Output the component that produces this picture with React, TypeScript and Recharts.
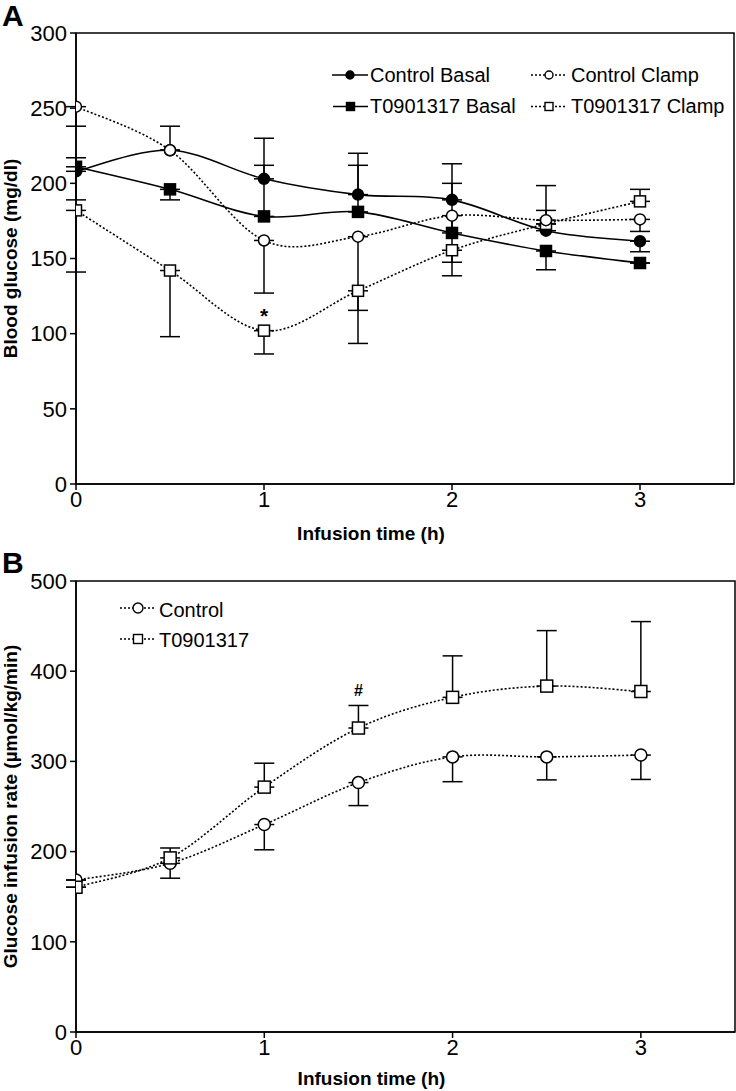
import React from 'react';
import { LineChart, Line, XAxis, YAxis, ErrorBar, ReferenceArea, ReferenceDot } from 'recharts';

const FONT = '"Liberation Sans", Arial, Helvetica, sans-serif';

// ---------- Panel A: Blood glucose (mg/dl) ----------
const timesA = [0, 0.5, 1, 1.5, 2, 2.5, 3];
const controlBasal = [208, 222, 203, 192.5, 189, 168.5, 161.5];
const t09Basal = [211, 196, 178, 181, 167, 155, 147];
const controlClamp = [251, 222, 162, 164.5, 178.5, 175.5, 176];
const t09Clamp = [182, 142, 102, 128.5, 155.5, 173, 188];
// error bars as [below, above]
const controlBasalErr = [[0, 9], [0, 16], [0, 27], [0, 27.5], [0, 24], [0, 30], [7, 0]];
const t09BasalErr = [[22, 0], [7, 0], [0, 34], [0, 31], [0, 33], [12.5, 0], [0, 0]];
const controlClampErr = [[13, 0], [0, 0], [35, 0], [49, 0], [31, 0], [0, 6.5], [8, 0]];
const t09ClampErr = [[41, 0], [44, 0], [15.5, 0], [35, 0], [17, 0], [0, 0], [0, 8]];
const xTicks = [0, 1, 2, 3];
const yTicksA = [0, 50, 100, 150, 200, 250, 300];

// ---------- Panel B: Glucose infusion rate ----------
const timesB = [0, 0.5, 1, 1.5, 2, 2.5, 3];
const controlGIR = [168.5, 187, 230, 276.5, 305, 305, 307];
const t09GIR = [160.5, 193, 271.5, 337, 371, 383.5, 377.5];
const controlGIRErr = [[0, 0], [16.5, 0], [28, 0], [25.5, 0], [27.5, 0], [25.5, 0], [27, 0]];
const t09GIRErr = [[0, 0], [0, 11], [0, 26.5], [0, 25], [0, 46], [0, 61.5], [0, 77.5]];
const yTicksB = [0, 100, 200, 300, 400, 500];

const dataA = timesA.map((t, i) => ({
  t,
  cb: controlBasal[i], cbE: controlBasalErr[i],
  tb: t09Basal[i], tbE: t09BasalErr[i],
  cc: controlClamp[i], ccE: controlClampErr[i],
  tc: t09Clamp[i], tcE: t09ClampErr[i],
}));

const dataB = timesB.map((t, i) => ({
  t,
  c: controlGIR[i], cE: controlGIRErr[i],
  d: t09GIR[i], dE: t09GIRErr[i],
}));

// Excel-like smoothed line (Catmull-Rom) as a d3 curve factory
function smoothCurve(context: any) {
  let pts: number[][] = [];
  return {
    areaStart() {},
    areaEnd() {},
    lineStart() { pts = []; },
    point(x: number, y: number) { pts.push([+x, +y]); },
    lineEnd() {
      if (!pts.length) return;
      context.moveTo(pts[0][0], pts[0][1]);
      const k = 1 / 6;
      for (let i = 0; i < pts.length - 1; i++) {
        const p0 = pts[i - 1] || pts[i];
        const p1 = pts[i];
        const p2 = pts[i + 1];
        const p3 = pts[i + 2] || p2;
        context.bezierCurveTo(
          p1[0] + (p2[0] - p0[0]) * k, p1[1] + (p2[1] - p0[1]) * k,
          p2[0] - (p3[0] - p1[0]) * k, p2[1] - (p3[1] - p1[1]) * k,
          p2[0], p2[1]
        );
      }
    },
  };
}

const circleDot = (r: number, fill: string) => (p: any) => {
  if (p.cx == null || p.cy == null) return <g key={`e${p.index}`} />;
  return <circle key={`c${p.index}`} cx={p.cx} cy={p.cy} r={r} fill={fill} stroke="#000" strokeWidth={1.5} />;
};
const squareDot = (s: number, fill: string) => (p: any) => {
  if (p.cx == null || p.cy == null) return <g key={`e${p.index}`} />;
  return <rect key={`s${p.index}`} x={p.cx - s / 2} y={p.cy - s / 2} width={s} height={s} fill={fill} stroke="#000" strokeWidth={1.5} />;
};

const tickStyle = { fontSize: 22, fill: '#000', fontFamily: FONT };

const xTitle = (text: string, baselineOffset: number) => (props: any) => {
  const vb = props.viewBox;
  return (
    <text x={vb.x + vb.width / 2 - 34} y={vb.y + baselineOffset} textAnchor="middle"
      fontFamily={FONT} fontWeight="bold" fontSize={19} fill="#000">{text}</text>
  );
};
const yTitle = (text: string) => (props: any) => {
  const vb = props.viewBox;
  const x = 17;
  const y = vb.y + vb.height / 2;
  return (
    <text x={x} y={y} transform={`rotate(-90 ${x} ${y})`} textAnchor="middle"
      fontFamily={FONT} fontWeight="bold" fontSize={19} fill="#000">{text}</text>
  );
};

const lineCommon = {
  type: smoothCurve as any,
  stroke: '#000',
  strokeWidth: 1.6,
  activeDot: false as any,
  isAnimationActive: false,
};
const dotted = '2 2';

function LegendRowSample(props: { x1: number; x2: number; y: number; dashed: boolean; shape: 'circle' | 'square'; fill: string; size: number }) {
  const { x1, x2, y, dashed, shape, fill, size } = props;
  const cx = (x1 + x2) / 2;
  return (
    <g>
      <line x1={x1} x2={x2} y1={y} y2={y} stroke="#000" strokeWidth={1.6} strokeDasharray={dashed ? dotted : undefined} />
      {shape === 'circle'
        ? <circle cx={cx} cy={y} r={size / 2} fill={fill} stroke="#000" strokeWidth={1.4} />
        : <rect x={cx - size / 2} y={y - size / 2} width={size} height={size} fill={fill} stroke="#000" strokeWidth={1.4} />}
    </g>
  );
}

export default function App() {
  return (
    <div style={{ position: 'absolute', left: 0, top: 0, width: 736, height: 1091, background: '#fff', fontFamily: FONT }}>
      <div style={{ position: 'absolute', left: 0, top: 0 }}>
        <LineChart width={736} height={545} data={dataA} margin={{ top: 33, right: 2, bottom: 21, left: 0 }}>
          <XAxis dataKey="t" type="number" domain={[0, 3.5]} ticks={xTicks} allowDataOverflow
            height={40} tick={tickStyle} tickSize={6} tickMargin={1}
            axisLine={{ stroke: '#000', strokeWidth: 1.5 }} tickLine={{ stroke: '#000', strokeWidth: 1.5 }}
            label={xTitle('Infusion time (h)', 56)} />
          <YAxis type="number" domain={[0, 300]} ticks={yTicksA} allowDataOverflow width={76}
            tick={tickStyle} tickSize={6} tickMargin={3}
            axisLine={{ stroke: '#000', strokeWidth: 1.5 }} tickLine={{ stroke: '#000', strokeWidth: 1.5 }}
            label={yTitle('Blood glucose (mg/dl)')} />
          <ReferenceArea x1={0} x2={3.5} y1={0} y2={300} fill="none" stroke="#000" strokeWidth={1.5} />
          <Line {...lineCommon} dataKey="tb" dot={squareDot(11, '#000')}>
            <ErrorBar dataKey="tbE" width={10} stroke="#000" strokeWidth={1.5} direction="y" isAnimationActive={false} />
          </Line>
          <Line {...lineCommon} dataKey="cb" dot={circleDot(5.5, '#000')}>
            <ErrorBar dataKey="cbE" width={10} stroke="#000" strokeWidth={1.5} direction="y" isAnimationActive={false} />
          </Line>
          <Line {...lineCommon} dataKey="tc" strokeDasharray={dotted} dot={squareDot(11, '#fff')}>
            <ErrorBar dataKey="tcE" width={10} stroke="#000" strokeWidth={1.5} direction="y" isAnimationActive={false} />
          </Line>
          <Line {...lineCommon} dataKey="cc" strokeDasharray={dotted} dot={circleDot(5.5, '#fff')}>
            <ErrorBar dataKey="ccE" width={10} stroke="#000" strokeWidth={1.5} direction="y" isAnimationActive={false} />
          </Line>
          <ReferenceDot x={1} y={115} r={0}
            shape={(p: any) => <text x={p.cx} y={p.cy + 12} textAnchor="middle" fontFamily={FONT} fontWeight="bold" fontSize={21} fill="#000">*</text>} />
        </LineChart>
      </div>
      <div style={{ position: 'absolute', left: 0, top: 545 }}>
        <LineChart width={736} height={546} data={dataB} margin={{ top: 36, right: 1, bottom: 19, left: 0 }}>
          <XAxis dataKey="t" type="number" domain={[0, 3.5]} ticks={xTicks} allowDataOverflow
            height={40} tick={tickStyle} tickSize={6} tickMargin={1}
            axisLine={{ stroke: '#000', strokeWidth: 1.5 }} tickLine={{ stroke: '#000', strokeWidth: 1.5 }}
            label={xTitle('Infusion time (h)', 53)} />
          <YAxis type="number" domain={[0, 500]} ticks={yTicksB} allowDataOverflow width={76}
            tick={tickStyle} tickSize={6} tickMargin={3}
            axisLine={{ stroke: '#000', strokeWidth: 1.5 }} tickLine={{ stroke: '#000', strokeWidth: 1.5 }}
            label={yTitle('Glucose infusion rate (µmol/kg/min)')} />
          <ReferenceArea x1={0} x2={3.5} y1={0} y2={500} fill="none" stroke="#000" strokeWidth={1.5} />
          <Line {...lineCommon} dataKey="c" strokeDasharray={dotted} dot={circleDot(6, '#fff')}>
            <ErrorBar dataKey="cE" width={10} stroke="#000" strokeWidth={1.5} direction="y" isAnimationActive={false} />
          </Line>
          <Line {...lineCommon} dataKey="d" strokeDasharray={dotted} dot={squareDot(12, '#fff')}>
            <ErrorBar dataKey="dE" width={10} stroke="#000" strokeWidth={1.5} direction="y" isAnimationActive={false} />
          </Line>
          <ReferenceDot x={1.5} y={379} r={0}
            shape={(p: any) => <text x={p.cx} y={p.cy + 6} textAnchor="middle" fontFamily={FONT} fontWeight="bold" fontSize={16} fill="#000">#</text>} />
        </LineChart>
      </div>
      <svg width={736} height={1091} style={{ position: 'absolute', left: 0, top: 0, pointerEvents: 'none' }}>
        <text x={2} y={26} fontFamily={FONT} fontWeight="bold" fontSize={30} fill="#000">A</text>
        <text x={2} y={573} fontFamily={FONT} fontWeight="bold" fontSize={30} fill="#000">B</text>
        {/* Legend A */}
        <LegendRowSample x1={332} x2={368} y={75} dashed={false} shape="circle" fill="#000" size={8} />
        <text x={370} y={82} fontFamily={FONT} fontSize={20} fill="#000">Control Basal</text>
        <LegendRowSample x1={333} x2={368} y={106.5} dashed={false} shape="square" fill="#000" size={8} />
        <text x={370} y={113} fontFamily={FONT} fontSize={20} fill="#000">T0901317 Basal</text>
        <LegendRowSample x1={531} x2={567} y={75} dashed={true} shape="circle" fill="#fff" size={8} />
        <text x={571} y={82} fontFamily={FONT} fontSize={20} fill="#000">Control Clamp</text>
        <LegendRowSample x1={531} x2={567} y={106.5} dashed={true} shape="square" fill="#fff" size={8} />
        <text x={571} y={113} fontFamily={FONT} fontSize={20} fill="#000">T0901317 Clamp</text>
        {/* Legend B */}
        <LegendRowSample x1={120} x2={156} y={608} dashed={true} shape="circle" fill="#fff" size={10} />
        <text x={159} y={617} fontFamily={FONT} fontSize={20} fill="#000">Control</text>
        <LegendRowSample x1={120} x2={156} y={639} dashed={true} shape="square" fill="#fff" size={9} />
        <text x={159} y={647} fontFamily={FONT} fontSize={20} fill="#000">T0901317</text>
      </svg>
    </div>
  );
}
